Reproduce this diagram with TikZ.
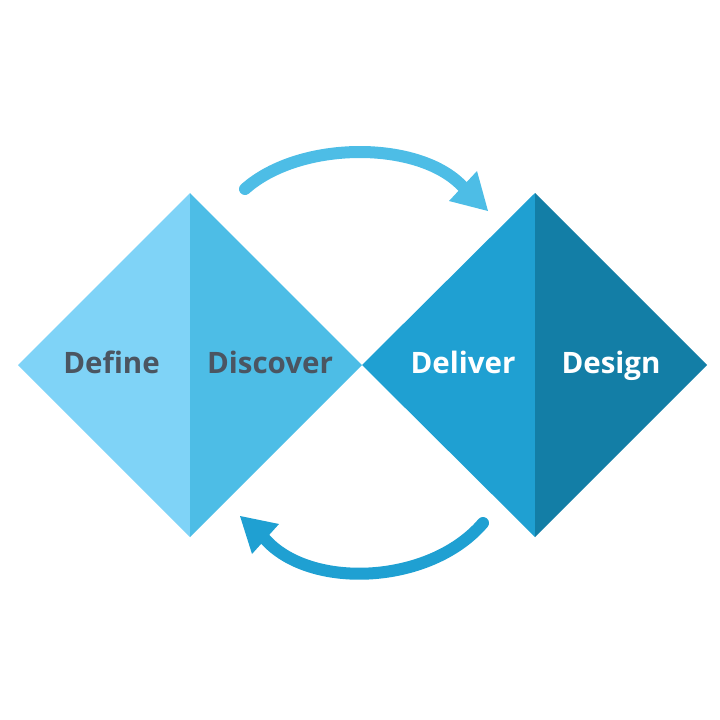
\documentclass[tikz,border=0pt]{standalone}
\usepackage{fontspec}
\setmainfont{Open Sans}
\definecolor{cA}{HTML}{7FD3F7}
\definecolor{cB}{HTML}{4DBDE6}
\definecolor{cC}{HTML}{1FA0D2}
\definecolor{cD}{HTML}{137EA6}
\definecolor{txt}{HTML}{4B5561}
\begin{document}
\begin{tikzpicture}[x=1pt,y=-1pt,
  lbl/.style={font=\bfseries\fontsize{29.5}{34}\selectfont, inner sep=0pt, anchor=base},
  shaft/.style={line width=12pt, line cap=round}]
\useasboundingbox (0,0) rectangle (720,720);
\coordinate (LT) at (190,193);
\coordinate (LB) at (190,537);
\coordinate (LL) at (18,365);
\coordinate (M) at (362,365);
\coordinate (RT) at (535,193);
\coordinate (RB) at (535,537);
\coordinate (RR) at (707,365);
\fill[cA] (LT) -- (LL) -- (LB) -- cycle;
\fill[cB] (LT) -- (M) -- (LB) -- cycle;
\fill[cC] (RT) -- (M) -- (RB) -- cycle;
\fill[cD] (RT) -- (RR) -- (RB) -- cycle;
\node[lbl, text=txt] (define) at (111.5,373) {Define};
\node[lbl, text=txt] (discover) at (270,373) {Discover};
\node[lbl, text=white] (deliver) at (463,373) {Deliver};
\node[lbl, text=white] (design) at (611,373) {Design};
\coordinate (ts) at (245,189);
\coordinate (te) at (463,187);
\draw[shaft, cB] (ts) .. controls (300,140) and (420,140) .. (te);
\fill[cB] (488,211) -- (449,201) -- (477,171) -- cycle;
\coordinate (bs) at (483,523);
\coordinate (be) at (265,539);
\draw[shaft, cC] (bs) .. controls (430,585) and (310,590) .. (be);
\fill[cC] (240,516) -- (279,524) -- (252,554) -- cycle;
\end{tikzpicture}
\end{document}
